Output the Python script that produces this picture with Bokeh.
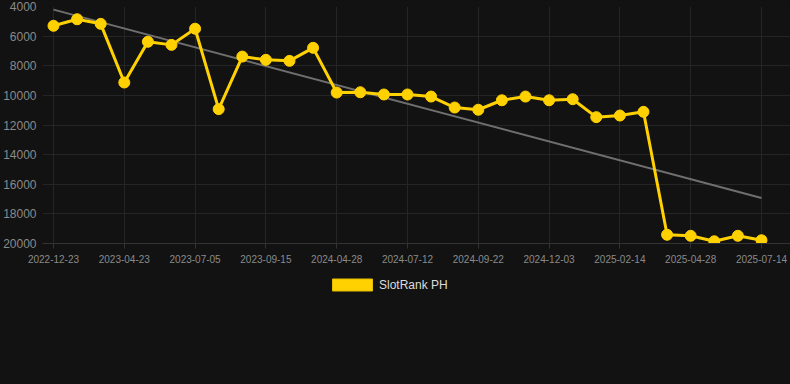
import numpy as np
from bokeh.plotting import figure
from bokeh.layouts import column
from bokeh.models import (Range1d, FixedTicker, Legend, LegendItem,
                          NumeralTickFormatter)
from bokeh.embed import file_html
from bokeh.resources import INLINE

# ---- data ----
series_name = "SlotRank PH"
tick_labels = ["2022-12-23", "2023-04-23", "2023-07-05", "2023-09-15",
               "2024-04-28", "2024-07-12", "2024-09-22", "2024-12-03",
               "2025-02-14", "2025-04-28", "2025-07-14"]
label_every = 3
rank = [5300, 4860, 5170, 9130, 6380, 6590, 5500, 10930, 7380, 7600,
        7670, 6790, 9810, 9790, 9940, 9940, 10080, 10820, 10970, 10330,
        10080, 10330, 10260, 11470, 11360, 11110, 19410, 19480, 19850,
        19480, 19780]
y_ticks = [4000, 6000, 8000, 10000, 12000, 14000, 16000, 18000, 20000]

# ---- derived ----
x = np.arange(len(rank))
tick_pos = [int(i) for i in x[::label_every]]
coef = np.polyfit(x, rank, 1)
trend_x = [int(x[0]), int(x[-1])]
trend_y = [float(v) for v in np.polyval(coef, trend_x)]

GOLD = "#FFD100"
BG = "#121212"
GRID = "#252525"
FONT = "Liberation Sans"

p = figure(width=790, height=270, output_backend="svg", toolbar_location=None,
           x_range=Range1d(-0.466, 31.23), y_range=Range1d(20000, 4000),
           background_fill_color=BG, border_fill_color=BG,
           outline_line_color=None,
           min_border_top=6, min_border_left=0, min_border_right=0,
           min_border_bottom=27)

p.line(trend_x, trend_y, line_color="#6f6f6f", line_width=2)
p.line(x, rank, line_color=GOLD, line_width=3)
p.scatter(x, rank, size=11, fill_color=GOLD, line_color=GOLD)

# axes
xa = p.xaxis[0]
xa.ticker = FixedTicker(ticks=tick_pos)
xa.major_label_overrides = {i: lab for i, lab in zip(tick_pos, tick_labels)}
xa.axis_line_color = "#333333"
xa.major_tick_line_color = "#333333"
xa.major_tick_out = 5
xa.major_tick_in = 0
xa.minor_tick_line_color = None
xa.major_label_standoff = 6
xa.major_label_text_font = FONT
xa.major_label_text_font_size = "10px"
xa.major_label_text_color = "#8a8a8a"

ya = p.yaxis[0]
ya.ticker = FixedTicker(ticks=y_ticks)
ya.formatter = NumeralTickFormatter(format="0")
ya.axis_line_color = None
ya.major_tick_line_color = None
ya.minor_tick_line_color = None
ya.major_tick_out = 0
ya.major_tick_in = 0
ya.major_label_standoff = 6
ya.major_label_text_font = FONT
ya.major_label_text_font_size = "12px"
ya.major_label_text_color = "#8a8a8a"

p.xgrid.ticker = FixedTicker(ticks=tick_pos)
p.xgrid.grid_line_color = GRID
p.ygrid.ticker = FixedTicker(ticks=y_ticks)
p.ygrid.grid_line_color = GRID

# ---- legend strip ----
lf = figure(width=790, height=114, output_backend="svg", toolbar_location=None,
            x_range=Range1d(0, 1), y_range=Range1d(0, 1),
            x_axis_type=None, y_axis_type=None,
            background_fill_color=BG, border_fill_color=BG,
            outline_line_color=None,
            min_border_top=0, min_border_left=0, min_border_right=0,
            min_border_bottom=0)
lf.grid.visible = False
proxy = lf.vbar(x=x, top=rank, width=0.5, fill_color=GOLD,
                line_color="#E6BC00", visible=False)

legend = Legend(items=[LegendItem(label=series_name, renderers=[proxy])],
                orientation="horizontal", location=(285, 92),
                glyph_width=50, glyph_height=15, label_height=12,
                label_standoff=2, padding=6, margin=0,
                background_fill_alpha=0, border_line_color=None,
                label_text_font=FONT, label_text_font_size="12px",
                label_text_color="#dddddd")
lf.add_layout(legend, "center")

layout = column(p, lf, spacing=0)

html = file_html(layout, INLINE)
html = html.replace("</head>", "<style>html,body{background:#121212;}</style></head>", 1)
open("out.html", "w").write(html)
